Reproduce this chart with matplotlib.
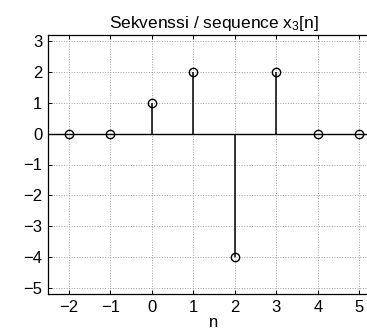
import numpy as np
import matplotlib
matplotlib.use('Agg')
import matplotlib.pyplot as plt

plt.rcParams['font.family'] = ['Liberation Sans', 'DejaVu Sans']
plt.rcParams['mathtext.fontset'] = 'custom'
plt.rcParams['mathtext.rm'] = 'Liberation Sans'
plt.rcParams['mathtext.it'] = 'Liberation Sans:italic'

# sequence x3[n]
n = [-2, -1, 0, 1, 2, 3, 4, 5]
x3 = [0, 0, 1, 2, -4, 2, 0, 0]
xticks = [-2, -1, 0, 1, 2, 3, 4, 5]
yticks = [-5, -4, -3, -2, -1, 0, 1, 2, 3]

fig = plt.figure(figsize=(3.67, 3.3), dpi=100)
# axes runs past the right edge like the original (cropped) figure
ax = fig.add_axes([48 / 367, 36 / 330, 332 / 367, 259 / 330])

markers, stems, base = ax.stem(n, x3, linefmt='k-', markerfmt='ko', basefmt='k-')
markers.set_markerfacecolor('none')
markers.set_markeredgecolor('k')
markers.set_markersize(6)
markers.set_markeredgewidth(1.0)
stems.set_linewidth(1.1)
base.set_linewidth(1.0)
base.set_xdata([-2.5, 5.5])

ax.set_xlim(-2.5, 5.5)
ax.set_ylim(-5.2, 3.2)
ax.set_xticks(xticks)
ax.set_yticks(yticks)
ax.tick_params(direction='in', length=3, width=0.7, labelsize=12, top=True, right=True, pad=4)
for s in ax.spines.values():
    s.set_linewidth(0.9)
ax.grid(color='#a0a0a0', linestyle=':', linewidth=0.7)
ax.set_axisbelow(True)

ax.set_title('Sekvenssi / sequence x$_{\\mathrm{3}}$[n]', fontsize=12.5, pad=5)
ax.set_xlabel('n', fontsize=12, labelpad=0)

fig.savefig('out.png', dpi=100)
